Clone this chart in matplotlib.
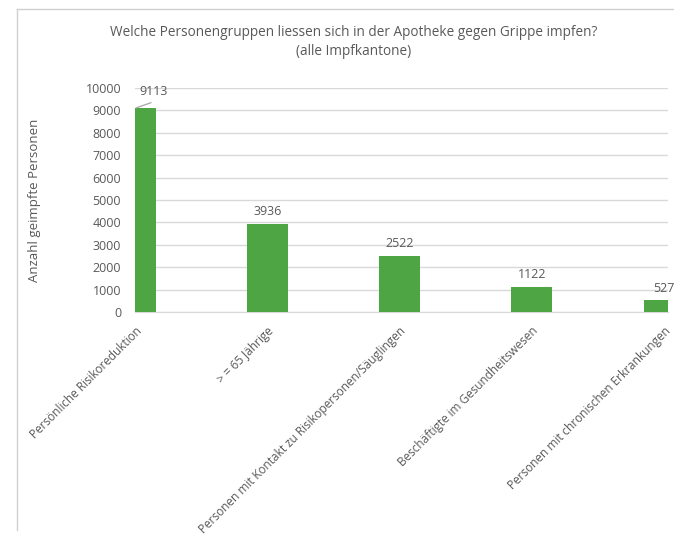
import matplotlib
matplotlib.use("Agg")
import matplotlib.pyplot as plt
from matplotlib.lines import Line2D

plt.rcParams['font.family'] = ['Open Sans', 'DejaVu Sans']

categories = [
    "Persönliche Risikoreduktion",
    "> = 65 Jährige",
    "Personen mit Kontakt zu Risikopersonen/Säuglingen",
    "Beschäftigte im Gesundheitswesen",
    "Personen mit chronischen Erkrankungen",
]
values = [9113, 3936, 2522, 1122, 527]
yticks = list(range(0, 10001, 1000))

title = "Welche Personengruppen liessen sich in der Apotheke gegen Grippe impfen?\n(alle Impfkantone)"
ylabel = "Anzahl geimpfte Personen"

text_col = '#595959'
bar_col = '#4ea543'
grid_col = '#d9d9d9'

W, H = 674, 539
fig = plt.figure(figsize=(W / 100, H / 100), dpi=100)
ax = fig.add_axes([135 / W, 1 - 312 / H, (668 - 135) / W, (312 - 88) / H])

x = list(range(len(categories)))
ax.bar(x, values, width=0.31, color=bar_col, zorder=3)
ax.set_xlim(0.0, 4.03)
ax.set_ylim(0, 10000)
ax.set_yticks(yticks)
ax.set_yticklabels([str(t) for t in yticks], fontsize=9, color=text_col)
ax.grid(axis='y', color=grid_col, linewidth=1, zorder=0)
ax.tick_params(length=0, pad=10)
for s in ['top', 'right', 'left']:
    ax.spines[s].set_visible(False)
ax.spines['bottom'].set_color(grid_col)
ax.set_xticks(x)
ax.set_xticklabels(categories, rotation=45, ha='right', rotation_mode='anchor',
                   fontsize=8.5, color=text_col)
ax.tick_params(axis='x', pad=9)

# data labels (first one sits above the bar with a leader line)
for i, v in enumerate(values):
    if i == 0:
        ax.text(i + 0.14, 9850, str(v), ha='center', va='center', fontsize=9,
                color=text_col, clip_on=False, zorder=5)
        ax.plot([i + 0.01, i + 0.12], [v, v + 230], color='#a6a6a6', lw=0.9,
                clip_on=False, zorder=5)
    else:
        ax.text(i, v + 250, str(v), ha='center', va='bottom', fontsize=9,
                color=text_col, clip_on=False)

ax.set_ylabel(ylabel, fontsize=9.5, color=text_col, labelpad=32)
fig.text(354 / W, 1 - 42 / H, title, ha='center', va='center', fontsize=9.8,
         color=text_col, linespacing=1.4)

# frame of the chart area
fig.add_artist(Line2D([17 / W, 17 / W], [1 - 9 / H, 1 - 530 / H], color='#d0d0d0', lw=1))
fig.add_artist(Line2D([17 / W, 1], [1 - 9 / H, 1 - 9 / H], color='#d0d0d0', lw=1))

fig.savefig('out.png', dpi=100)
